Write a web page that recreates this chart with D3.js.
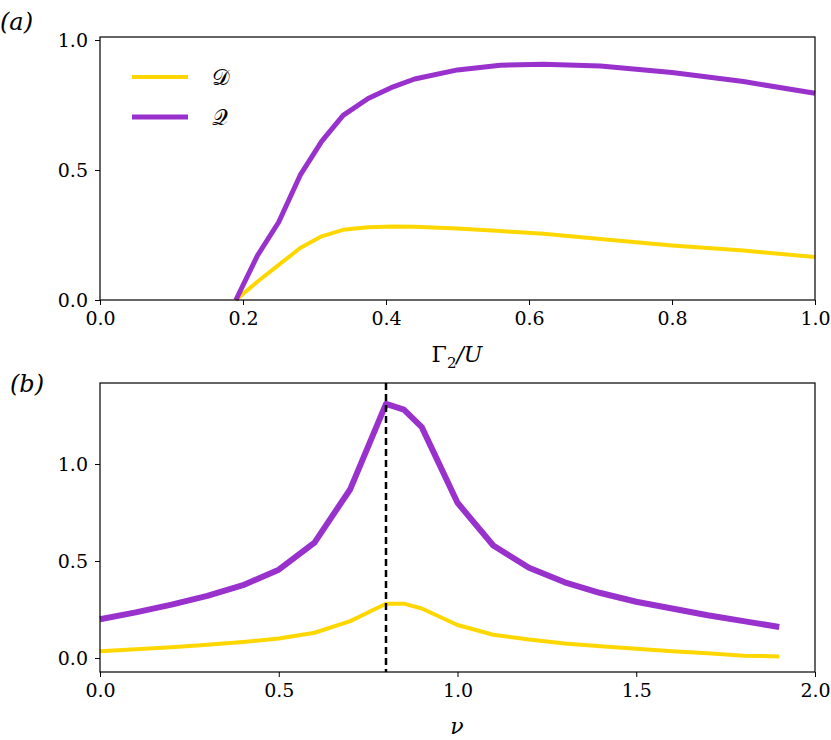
<!DOCTYPE html>
<html><head><meta charset="utf-8">
<script src="https://cdn.jsdelivr.net/npm/d3@7"></script>
<style>body{margin:0;background:#fff}svg text{font-family:"DejaVu Serif","Liberation Serif",serif !important}</style>
</head><body><svg id="chart" width="831" height="740"></svg>
<script>
// panel (a)
const gammaX = [0.19,0.22,0.25,0.28,0.31,0.34,0.375,0.41,0.44,0.5,0.56,0.62,0.7,0.8,0.9,1.0];
const qA = [0,0.17,0.3,0.48,0.61,0.71,0.775,0.82,0.85,0.885,0.903,0.907,0.9,0.875,0.84,0.795];
const dA = [0,0.07,0.135,0.2,0.245,0.27,0.28,0.283,0.282,0.275,0.265,0.255,0.235,0.21,0.19,0.165];
// panel (b)
const nuX = [0,0.1,0.2,0.3,0.4,0.5,0.6,0.7,0.8,0.85,0.9,1.0,1.1,1.2,1.3,1.4,1.5,1.6,1.7,1.8,1.9];
const qB = [0.2,0.235,0.275,0.32,0.375,0.455,0.595,0.87,1.31,1.28,1.19,0.8,0.58,0.465,0.39,0.335,0.29,0.255,0.22,0.19,0.16];
const dB = [0.035,0.045,0.055,0.068,0.082,0.1,0.13,0.19,0.28,0.28,0.255,0.17,0.12,0.095,0.075,0.06,0.048,0.035,0.025,0.012,0.008];
const ticksA = [0,0.2,0.4,0.6,0.8,1.0], yTicksA = [0,0.5,1.0];
const ticksB = [0,0.5,1.0,1.5,2.0], yTicksB = [0,0.5,1.0];
const YEL = '#FFD700', PUR = '#9932CC';

const svg = d3.select('#chart');

function panel(top, bottom, xDom, yDom, xt, yt) {
  const x = d3.scaleLinear().domain(xDom).range([100, 815]);
  const y = d3.scaleLinear().domain(yDom).range([bottom, top]);
  const g = svg.append('g');
  g.append('g').attr('transform', `translate(0,${bottom})`)
    .call(d3.axisBottom(x).tickValues(xt).tickFormat(d3.format('.1f')).tickSize(5).tickPadding(7))
    .call(a => a.select('.domain').remove());
  g.append('g').attr('transform', 'translate(100,0)')
    .call(d3.axisLeft(y).tickValues(yt).tickFormat(d3.format('.1f')).tickSize(5).tickPadding(7))
    .call(a => a.select('.domain').remove());
  g.selectAll('.tick text').attr('font-size', 19).attr('fill', '#000');
  g.selectAll('.tick line').attr('stroke', '#000');
  return {x, y, g};
}

function line(p, xs, ys, color, w) {
  p.g.append('path')
    .datum(xs.map((v, i) => [v, ys[i]]))
    .attr('fill', 'none').attr('stroke', color).attr('stroke-width', w)
    .attr('stroke-linejoin', 'round')
    .attr('d', d3.line().x(d => p.x(d[0])).y(d => p.y(d[1])));
}

function frame(top, bottom) {
  svg.append('rect').attr('x', 100).attr('y', top).attr('width', 715).attr('height', bottom - top)
    .attr('fill', 'none').attr('stroke', '#000').attr('stroke-width', 1.2);
}

const a = panel(37, 300, [0, 1], [0, 1.0115], ticksA, yTicksA);
line(a, gammaX, dA, YEL, 4);
line(a, gammaX, qA, PUR, 5);
frame(37, 300);

const b = panel(383, 672, [0, 2], [-0.0722, 1.4175], ticksB, yTicksB);
line(b, nuX, dB, YEL, 4);
line(b, nuX, qB, PUR, 6);
b.g.append('line').attr('x1', b.x(0.8)).attr('x2', b.x(0.8)).attr('y1', 383).attr('y2', 672)
  .attr('stroke', '#000').attr('stroke-width', 2.5).attr('stroke-dasharray', '7,4');
frame(383, 672);

// legend
[[YEL, '𝒟', 77, 4], [PUR, '𝒬', 117, 5]].forEach(([c, t, yy, w]) => {
  svg.append('line').attr('x1', 132).attr('x2', 188).attr('y1', yy).attr('y2', yy)
    .attr('stroke', c).attr('stroke-width', w);
  svg.append('text').attr('x', 212).attr('y', yy + 8).attr('font-size', 22).text(t);
});

// labels
svg.append('text').attr('x', 0).attr('y', 30).attr('font-size', 24).attr('font-style', 'italic').text('(a)');
svg.append('text').attr('x', 10).attr('y', 392).attr('font-size', 24).attr('font-style', 'italic').text('(b)');
svg.append('text').attr('x', 457).attr('y', 362).attr('text-anchor', 'middle').attr('font-size', 22)
  .html('Γ<tspan font-size="15" dy="6">2</tspan><tspan dy="-6" font-style="italic">/U</tspan>');
svg.append('text').attr('x', 457).attr('y', 734).attr('text-anchor', 'middle').attr('font-size', 22)
  .attr('font-style', 'italic').text('ν');
</script></body></html>
